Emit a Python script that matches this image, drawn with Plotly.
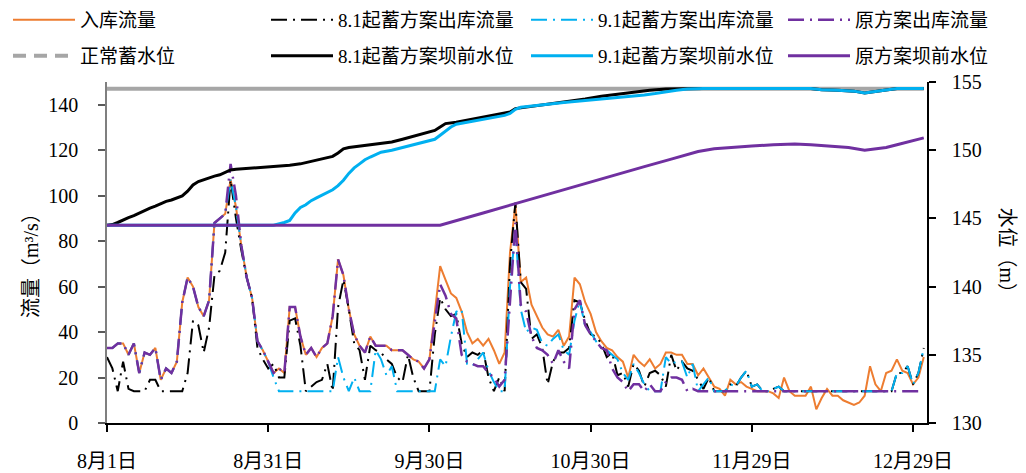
import plotly.graph_objects as go

# ---------------- data ----------------
tick_days = [0, 30, 60, 90, 120, 150]
tick_text = ["8月1日", "8月31日", "9月30日", "10月30日", "11月29日", "12月29日"]
days = list(range(153))  # 8月1日 .. 12月31日

inflow = [33, 33, 35, 35, 30, 35, 22, 31, 30, 33,
          19, 24, 22, 27, 53, 64, 60, 51, 47, 54,
          88, 90, 92, 107, 95, 78, 64, 55, 36, 32,
          27, 22, 24, 22, 51, 51, 38, 30, 33, 29,
          33, 35, 47, 72, 65, 50, 39, 34, 31, 38,
          34, 34, 34, 32, 32, 32, 30, 28, 27, 24,
          28, 50, 69, 63, 57, 55, 49, 40, 35, 37,
          34, 37, 32, 26, 31, 75, 96, 62, 64, 52,
          47, 42, 39, 38, 41, 34, 38, 64, 61, 53,
          48, 40, 36, 33, 32, 29, 27, 20, 30, 27,
          25, 28, 24, 26, 31, 31, 30, 30, 26, 26,
          21, 24, 20, 16, 15, 12, 19, 17, 18, 16,
          15, 14, 14, 14, 13, 11, 20, 14, 12, 12,
          12, 16, 6, 11, 15, 12, 12, 10, 9, 8,
          9, 12, 25, 17, 14, 22, 23, 28, 23, 22,
          17, 20, 29]

out_orig = [33, 33, 35, 35, 30, 35, 22, 31, 30, 33,
            19, 24, 22, 27, 53, 64, 60, 51, 47, 54,
            88, 90, 92, 114, 100, 78, 64, 55, 36, 32,
            27, 22, 24, 22, 51, 51, 38, 30, 33, 29,
            33, 35, 47, 72, 65, 50, 39, 34, 31, 38,
            34, 34, 34, 32, 32, 32, 30, 28, 27, 24,
            28, 45, 61, 56, 48, 46, 30, 27, 26, 25,
            25, 22, 20, 16, 19, 56, 88, 52, 49, 38,
            33, 32, 30, 26, 32, 27, 24, 50, 54, 43,
            39, 36, 33, 32, 24, 20, 18, 14, 17, 17,
            14, 17, 14, 14, 18, 20, 20, 19, 14, 15,
            14, 14, 14, 14, 14, 14, 14, 14, 14, 14,
            14, 14, 14, 14, 14, 14, 14, 14, 14, 14,
            14, 14, 14, 14, 14, 14, 14, 14, 14, 14,
            14, 14, 14, 14, 14, 14, 14, 14, 14, 14,
            14, 14, 14]

out_91 = [33, 33, 35, 35, 30, 35, 22, 31, 30, 33,
          19, 24, 22, 27, 53, 64, 60, 51, 47, 54,
          88, 90, 92, 107, 95, 78, 64, 55, 36, 32,
          27, 20, 14, 14, 14, 14, 14, 14, 14, 14,
          14, 14, 14, 29, 20, 14, 20, 14, 14, 14,
          32, 28, 21, 25, 14, 14, 14, 14, 14, 14,
          14, 14, 28, 25, 38, 49, 50, 26, 25, 28,
          31, 23, 18, 14, 14, 60, 85, 50, 40, 42,
          41, 35, 34, 37, 39, 32, 30, 45, 54, 42,
          40, 36, 33, 32, 30, 28, 22, 19, 26, 22,
          17, 14, 14, 14, 29, 26, 27, 27, 20, 26,
          14, 17, 20, 14, 14, 14, 17, 16, 20, 23,
          16, 17, 14, 14, 15, 16, 14, 14, 14, 14,
          14, 14, 14, 14, 14, 14, 14, 14, 14, 14,
          14, 14, 14, 14, 14, 14, 14, 22, 22, 25,
          17, 22, 33]

out_81_head = [29, 24, 14, 27, 15, 14, 14, 14, 19, 19,
               14, 14, 14, 14, 14, 22, 45, 43, 31, 42,
               65, 67, 75, 107, 90, 76, 64, 55, 33, 28,
               24, 26, 20, 20, 45, 46, 34, 14, 16, 18,
               19, 26, 14, 51, 63, 50, 35, 32, 19, 34,
               32, 31, 28, 26, 20, 18, 30, 20, 14, 14,
               14, 39, 55, 50, 47, 48, 35, 29, 31, 30,
               32, 20, 14, 20, 14, 70, 97, 62, 59, 37,
               39, 33, 17, 27, 31, 31, 33, 54, 53, 45,
               39, 38, 35, 29, 31, 21, 22, 16, 26, 23,
               16, 22, 23, 21, 16, 30, 23, 27, 24, 23,
               19, 15]
# after day 111 both schemes run at full pool with identical releases
out_81 = out_81_head + out_91[len(out_81_head):]

normal_days = [0, 152]
normal_level = [154.5, 154.5]

lvl81_days = [0, 1, 2, 3, 4, 5, 6, 7, 8, 9, 10, 11, 12, 13, 14, 15, 16, 17, 18, 19,
              20, 21, 22, 23, 24, 26, 28, 30, 32, 34, 36, 38, 39, 40, 41, 42, 43, 44, 45,
              47, 49, 51, 53, 55, 57, 59, 61, 62, 63, 65, 67, 69, 71, 73, 75, 76, 78,
              80, 83, 86, 89, 92, 95, 98, 101, 104, 107, 111, 131, 133, 136, 139, 141,
              142, 144, 146, 147, 152]
lvl81 = [144.5, 144.55, 144.7, 144.9, 145.05, 145.2, 145.4, 145.55, 145.75, 145.9,
         146.1, 146.25, 146.35, 146.5, 146.65, 147.0, 147.45, 147.7, 147.85, 148.0,
         148.1, 148.2, 148.35, 148.55, 148.6, 148.65, 148.7, 148.75, 148.8, 148.9,
         149.0, 149.2, 149.3, 149.4, 149.5, 149.55, 149.8, 150.1, 150.2,
         150.3, 150.4, 150.5, 150.6, 150.8, 151.0, 151.2, 151.45, 151.7, 151.95,
         152.05, 152.2, 152.35, 152.5, 152.65, 152.8, 153.05, 153.15,
         153.3, 153.45, 153.6, 153.75, 153.95, 154.1, 154.25, 154.4, 154.48, 154.52,
         154.53, 154.53, 154.43, 154.4, 154.33, 154.2, 154.25, 154.35, 154.45, 154.53,
         154.53]

lvl91_days = [0, 31, 33, 34, 35, 36, 37, 38, 39, 40, 41, 42, 43, 44, 45, 46, 47, 48,
              49, 50, 51, 53, 55, 57, 59, 61, 62, 63, 64, 65, 67, 69, 71, 73, 74, 75,
              76, 77, 79, 82, 85, 88, 91, 94, 97, 100, 102, 104, 106, 108, 111, 131,
              133, 136, 139, 141, 142, 144, 146, 147, 152]
lvl91 = [144.5, 144.5, 144.7, 144.85, 145.4, 145.8, 146.0, 146.3, 146.5, 146.7,
         146.9, 147.1, 147.4, 147.8, 148.3, 148.7, 149.0, 149.3, 149.5, 149.7,
         149.85, 150.0, 150.2, 150.4, 150.6, 150.8, 151.1, 151.4, 151.7, 151.9,
         152.05, 152.2, 152.3, 152.45, 152.55, 152.7, 153.0, 153.15, 153.25,
         153.4, 153.5, 153.6, 153.7, 153.85, 153.95, 154.05, 154.15, 154.3,
         154.4, 154.48, 154.53, 154.53, 154.43, 154.4, 154.33, 154.2, 154.25,
         154.35, 154.45, 154.53, 154.53]

lvlorig_days = [0, 62, 70, 80, 90, 100, 105, 108, 110, 113, 116, 120, 124, 128,
                131, 134, 138, 141, 143, 145, 147, 149, 151, 152]
lvlorig = [144.5, 144.5, 145.4, 146.55, 147.7, 148.8, 149.35, 149.7, 149.9, 150.1,
           150.2, 150.3, 150.4, 150.45, 150.4, 150.3, 150.2, 150.0, 150.1, 150.2,
           150.4, 150.6, 150.75, 150.9]

# ---------------- style ----------------
ORANGE = "#ED7D31"
BLACK = "#000000"
CYAN = "#00B0F0"
PURPLE = "#7030A0"
GRAY = "#A6A6A6"
DASHDOT = "16px,6px,2px,6px"
FONT = "Liberation Serif, 'Times New Roman', 'Noto Sans CJK SC', serif"

fig = go.Figure()

fig.add_trace(go.Scatter(x=days, y=inflow, mode="lines", name="入库流量",
                         line=dict(color=ORANGE, width=2), legend="legend"))
fig.add_trace(go.Scatter(x=days, y=out_81, mode="lines", name="8.1起蓄方案出库流量",
                         line=dict(color=BLACK, width=2, dash=DASHDOT), legend="legend2"))
fig.add_trace(go.Scatter(x=days, y=out_91, mode="lines", name="9.1起蓄方案出库流量",
                         line=dict(color=CYAN, width=2, dash=DASHDOT), legend="legend3"))
fig.add_trace(go.Scatter(x=days, y=out_orig, mode="lines", name="原方案出库流量",
                         line=dict(color=PURPLE, width=2.5, dash=DASHDOT), legend="legend4"))

fig.add_trace(go.Scatter(x=normal_days, y=normal_level, mode="lines", name="正常蓄水位",
                         line=dict(color=GRAY, width=4), yaxis="y2", showlegend=False))
fig.add_trace(go.Scatter(x=[None], y=[None], mode="lines", name="正常蓄水位",
                         line=dict(color=GRAY, width=4, dash="13px,8px"), yaxis="y2",
                         legend="legend5"))
fig.add_trace(go.Scatter(x=lvl81_days, y=lvl81, mode="lines", name="8.1起蓄方案坝前水位",
                         line=dict(color=BLACK, width=3), yaxis="y2", legend="legend6"))
fig.add_trace(go.Scatter(x=lvl91_days, y=lvl91, mode="lines", name="9.1起蓄方案坝前水位",
                         line=dict(color=CYAN, width=3), yaxis="y2", legend="legend7"))
fig.add_trace(go.Scatter(x=lvlorig_days, y=lvlorig, mode="lines", name="原方案坝前水位",
                         line=dict(color=PURPLE, width=3), yaxis="y2", legend="legend8"))

# the page adds an 8px body margin, so the figure is 8px smaller than the window
W, H = 1018, 465
col_x = [0, 258, 518, 775]
row_y = [12, 48]
legends = {}
k = 0
for r in range(2):
    for c in range(4):
        key = "legend" if k == 0 else f"legend{k + 1}"
        legends[key] = dict(
            xref="container", yref="container",
            x=col_x[c] / W, y=1 - row_y[r] / H,
            xanchor="left", yanchor="middle",
            orientation="h", itemwidth=62,
            bgcolor="rgba(0,0,0,0)", borderwidth=0,
            font=dict(family=FONT, size=19, color="#000"),
        )
        k += 1

fig.update_layout(
    width=W, height=H,
    margin=dict(l=99, r=99, t=74, b=50, autoexpand=False),
    paper_bgcolor="white", plot_bgcolor="white",
    font=dict(family=FONT, size=20, color="#000"),
    showlegend=True,
    xaxis=dict(range=[0, 152.6], tickvals=tick_days, ticktext=tick_text,
               ticks="outside", ticklen=7, tickwidth=1.5, tickcolor="#000",
               showline=True, linecolor="#000", linewidth=2,
               showgrid=False, zeroline=False, ticklabelstandoff=12,
               automargin=False, tickfont=dict(size=20)),
    yaxis=dict(range=[0, 150], tickvals=[0, 20, 40, 60, 80, 100, 120, 140],
               ticks="outside", ticklen=7, tickwidth=1.5, tickcolor="#595959",
               showline=True, linecolor="#7f7f7f", linewidth=1.5,
               showgrid=False, zeroline=False, ticklabelstandoff=16,
               automargin=False, tickfont=dict(size=20)),
    yaxis2=dict(range=[130, 155], tickvals=[130, 135, 140, 145, 150, 155],
                overlaying="y", side="right", anchor="x",
                ticks="outside", ticklen=7, tickwidth=1.5, tickcolor="#000",
                showline=True, linecolor="#000", linewidth=1.5,
                showgrid=False, zeroline=False, ticklabelstandoff=12,
                automargin=False, tickfont=dict(size=20)),
    annotations=[
        dict(text="流量（m³/s）", xref="paper", yref="paper", x=-0.0927, y=0.478,
             xanchor="center", yanchor="middle", textangle=-90, showarrow=False,
             font=dict(family=FONT, size=20)),
        dict(text="水位（m）", xref="paper", yref="paper", x=1.098, y=0.49,
             xanchor="center", yanchor="middle", textangle=90, showarrow=False,
             font=dict(family=FONT, size=20)),
    ],
    **legends,
)

fig.write_html("out.html")
